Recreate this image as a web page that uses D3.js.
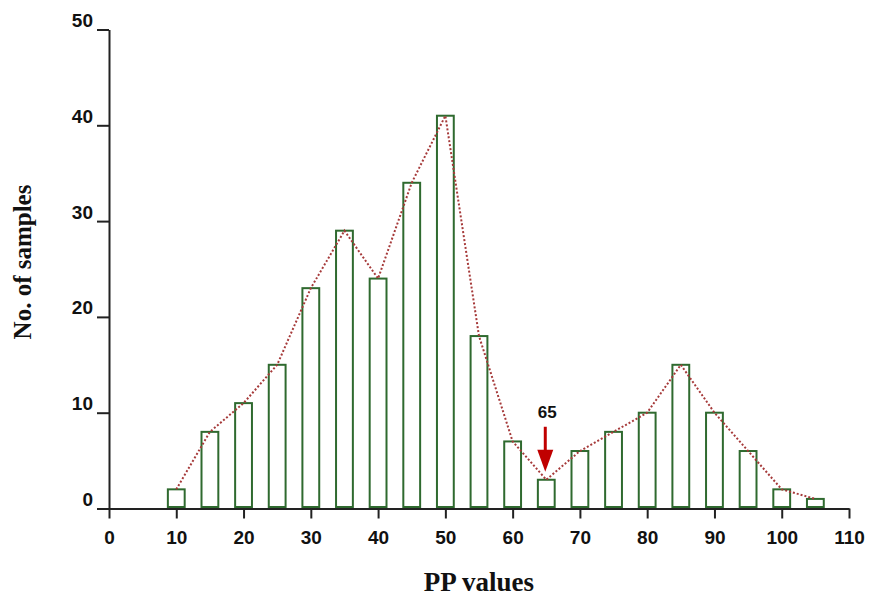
<!DOCTYPE html>
<html>
<head>
<meta charset="utf-8">
<script src="https://cdn.jsdelivr.net/npm/d3@7"></script>
<style>
  body { margin: 0; background: #fff; }
</style>
</head>
<body>
<div id="chart"></div>
<script>
// histogram of PP values
const pp_bins = [10, 15, 20, 25, 30, 35, 40, 45, 50, 55, 60, 65, 70, 75, 80, 85, 90, 95, 100, 105];
const sample_counts = [2, 8, 11, 15, 23, 29, 24, 34, 41, 18, 7, 3, 6, 8, 10, 15, 10, 6, 2, 1];
const x_ticks = [0, 10, 20, 30, 40, 50, 60, 70, 80, 90, 100, 110];
const y_ticks = [0, 10, 20, 30, 40, 50];
const marked_bin = 65;

const width = 870;
const height = 601;
const bar_half = 1.25;

const svg = d3.select('#chart')
    .append('svg')
    .attr('width', width)
    .attr('height', height);

const x_scale = d3.scaleLinear().domain([0, 110]).range([109, 849]);
const y_scale = d3.scaleLinear().domain([0, 50]).range([508.5, 29.5]);

// bars
svg.selectAll('.bar')
    .data(pp_bins)
    .enter()
    .append('rect')
    .attr('class', 'bar')
    .attr('x', d => x_scale(d - bar_half))
    .attr('width', d => x_scale(d + bar_half) - x_scale(d - bar_half))
    .attr('y', (d, i) => y_scale(sample_counts[i]))
    .attr('height', (d, i) => y_scale(0) - 1.5 - y_scale(sample_counts[i]))
    .attr('fill', '#fff')
    .attr('stroke', '#2f6a2f')
    .attr('stroke-width', 2);

// dotted line through bar tops
const line = d3.line()
    .x(d => x_scale(d[0]))
    .y(d => y_scale(d[1]));

svg.append('path')
    .datum(pp_bins.map((b, i) => [b, sample_counts[i]]))
    .attr('d', line)
    .attr('fill', 'none')
    .attr('stroke', '#a63a3a')
    .attr('stroke-width', 2)
    .attr('stroke-dasharray', '2,2');

// axes
const y_axis = d3.axisLeft(y_scale)
    .tickValues(y_ticks)
    .tickSize(12)
    .tickSizeOuter(0)
    .tickFormat(d3.format('d'));

const y_g = svg.append('g')
    .attr('transform', 'translate(' + x_scale(0) + ',0)')
    .call(y_axis);

y_g.selectAll('text')
    .attr('x', -16)
    .attr('y', -3)
    .attr('dy', 0);

const x_axis = d3.axisBottom(x_scale)
    .tickValues(x_ticks)
    .tickSize(10)
    .tickSizeOuter(0)
    .tickFormat(d3.format('d'));

const x_g = svg.append('g')
    .attr('transform', 'translate(0,' + y_scale(0) + ')')
    .call(x_axis);

x_g.selectAll('text')
    .attr('y', 35)
    .attr('dy', 0);

svg.selectAll('.domain, .tick line')
    .attr('stroke', '#222')
    .attr('stroke-width', 2);

svg.selectAll('.tick text')
    .attr('fill', '#111')
    .attr('font-family', 'Liberation Sans, Arial, sans-serif')
    .attr('font-weight', 'bold')
    .attr('font-size', '19px');

// axis titles
svg.append('text')
    .attr('x', (x_scale(0) + x_scale(110)) / 2)
    .attr('y', 591)
    .attr('text-anchor', 'middle')
    .attr('font-family', 'Liberation Serif, Times New Roman, serif')
    .attr('font-weight', 'bold')
    .attr('font-size', '27px')
    .attr('fill', '#111')
    .text('PP values');

svg.append('text')
    .attr('transform', 'translate(31,262) rotate(-90)')
    .attr('text-anchor', 'middle')
    .attr('font-family', 'Liberation Serif, Times New Roman, serif')
    .attr('font-weight', 'bold')
    .attr('font-size', '25px')
    .attr('fill', '#111')
    .text('No. of samples');

// marker for the 65 bin
const mark_idx = pp_bins.indexOf(marked_bin);
const mark_x = x_scale(marked_bin);
const mark_top = y_scale(sample_counts[mark_idx]);

svg.append('line')
    .attr('x1', mark_x - 1)
    .attr('x2', mark_x - 1)
    .attr('y1', mark_top - 53)
    .attr('y2', mark_top - 25)
    .attr('stroke', '#c00000')
    .attr('stroke-width', 3);

svg.append('path')
    .attr('d', 'M' + (mark_x - 9) + ',' + (mark_top - 30) +
        'L' + (mark_x + 7) + ',' + (mark_top - 30) +
        'L' + (mark_x - 1) + ',' + (mark_top - 8) + 'Z')
    .attr('fill', '#c00000');

svg.append('text')
    .attr('x', mark_x + 1)
    .attr('y', mark_top - 62)
    .attr('text-anchor', 'middle')
    .attr('font-family', 'Liberation Sans, Arial, sans-serif')
    .attr('font-weight', 'bold')
    .attr('font-size', '17px')
    .attr('fill', '#111')
    .text(marked_bin);
</script>
</body>
</html>
